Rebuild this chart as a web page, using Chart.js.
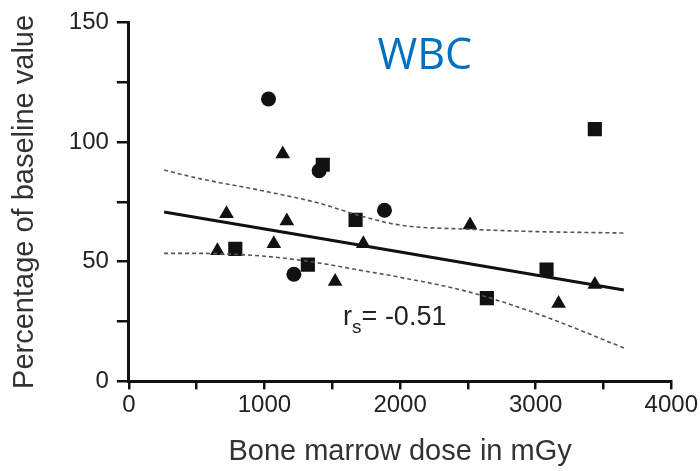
<!DOCTYPE html>
<html>
<head>
<meta charset="utf-8">
<script src="https://cdn.jsdelivr.net/npm/chart.js@4/dist/chart.umd.min.js"></script>
<style>
  html, body { margin: 0; padding: 0; background: #fff; }
  #wrap { width: 700px; height: 471px; }
</style>
</head>
<body>
<div id="wrap"><canvas id="c"></canvas></div>
<script>
// dose (mGy) and % of baseline, per marker group
const circleDose = [1030, 1403, 1885, 1217]
const circleValue = [118, 88, 71.5, 44.8]
const squareDose = [1430, 1672, 785, 1320, 2640, 3080, 3436]
const squareValue = [90.5, 67.5, 55.4, 48.8, 34.8, 46.7, 105.4]
const triangleDose = [653, 720, 1069, 1135, 1165, 1521, 1729, 2516, 3169, 3436]
const triangleValue = [54.6, 70, 57.5, 95, 67, 41.7, 57.5, 65.4, 32.5, 40.5]

// regression line and confidence band
const fitDose = [260, 3650]
const fitValue = [70.8, 38.2]
const bandDose = [260, 500, 1000, 1400, 1700, 2000, 2500, 3000, 3650]
const upperValue = [88.3, 85, 79.5, 74.5, 69.3, 65.3, 63.6, 62.6, 62]
const lowerValue = [53.5, 53.5, 52.3, 49.5, 46.5, 43.5, 37.5, 28.5, 14]

const xTicks = [0, 1000, 2000, 3000, 4000]
const yTicks = [0, 50, 100, 150]

const pts = (xs, ys) => xs.map((x, i) => ({ x: x, y: ys[i] }))

const markerSize = { circle: 7.5, rect: 10, triangle: 8.5 }

const markerSet = function (data, style) {
  return {
    type: 'scatter',
    data: data,
    pointStyle: style,
    pointRadius: markerSize[style],
    backgroundColor: '#111',
    borderColor: '#111',
    borderWidth: 0
  }
}

const lineSet = function (data, dashed) {
  return {
    type: 'line',
    data: data,
    borderColor: dashed ? '#555' : '#111',
    borderWidth: dashed ? 1.6 : 3,
    borderDash: dashed ? [4, 3] : [],
    pointRadius: 0,
    fill: false,
    cubicInterpolationMode: 'monotone'
  }
}

const labelPlugin = {
  id: 'labels',
  afterDraw(chart) {
    const ctx = chart.ctx
    const xs = chart.scales.x
    const ys = chart.scales.y
    ctx.save()
    ctx.fillStyle = '#0070C0'
    ctx.font = '43px "Open Sans"'
    ctx.textBaseline = 'alphabetic'
    ctx.fillText('WBC', xs.getPixelForValue(1833), ys.getPixelForValue(130.4))

    ctx.fillStyle = '#222'
    let px = xs.getPixelForValue(1580)
    const py = ys.getPixelForValue(23.7)
    ctx.font = '27px "Liberation Sans"'
    ctx.fillText('r', px, py)
    px += ctx.measureText('r').width
    ctx.font = '19px "Liberation Sans"'
    ctx.fillText('s', px, py + 8)
    px += ctx.measureText('s').width
    ctx.font = '27px "Liberation Sans"'
    ctx.fillText('= -0.51', px, py)
    ctx.restore()
  }
}

new Chart(document.getElementById('c'), {
  data: {
    datasets: [
      lineSet(pts(bandDose, upperValue), true),
      lineSet(pts(bandDose, lowerValue), true),
      lineSet(pts(fitDose, fitValue), false),
      markerSet(pts(circleDose, circleValue), 'circle'),
      markerSet(pts(squareDose, squareValue), 'rect'),
      markerSet(pts(triangleDose, triangleValue), 'triangle')
    ]
  },
  options: {
    animation: false,
    responsive: true,
    maintainAspectRatio: false,
    layout: { padding: { top: 8, right: 6, left: 8, bottom: 2 } },
    plugins: { legend: { display: false }, tooltip: { enabled: false } },
    scales: {
      x: {
        type: 'linear',
        min: 0,
        max: 4000,
        border: { display: true, color: '#111', width: 3 },
        grid: { drawOnChartArea: false, drawTicks: true, tickLength: 8, color: '#111', lineWidth: 2.5 },
        ticks: {
          stepSize: 500,
          color: '#222',
          font: { family: 'Liberation Sans', size: 24 },
          padding: 2,
          maxRotation: 0,
          callback: v => xTicks.includes(v) ? String(v) : ''
        },
        title: {
          display: true,
          text: 'Bone marrow dose in mGy',
          color: '#333',
          font: { family: 'Liberation Sans', size: 29 },
          padding: { top: 12, bottom: 0 }
        }
      },
      y: {
        type: 'linear',
        min: 0,
        max: 150,
        border: { display: true, color: '#111', width: 3 },
        grid: { drawOnChartArea: false, drawTicks: true, tickLength: 12, color: '#111', lineWidth: 2.5 },
        ticks: {
          stepSize: 25,
          color: '#222',
          font: { family: 'Liberation Sans', size: 24 },
          padding: 8,
          callback: v => yTicks.includes(v) ? String(v) : ''
        },
        title: {
          display: true,
          text: 'Percentage of baseline value',
          color: '#333',
          font: { family: 'Liberation Sans', size: 29 },
          padding: { top: 0, bottom: 18 }
        }
      }
    }
  },
  plugins: [labelPlugin]
})
</script>
</body>
</html>
